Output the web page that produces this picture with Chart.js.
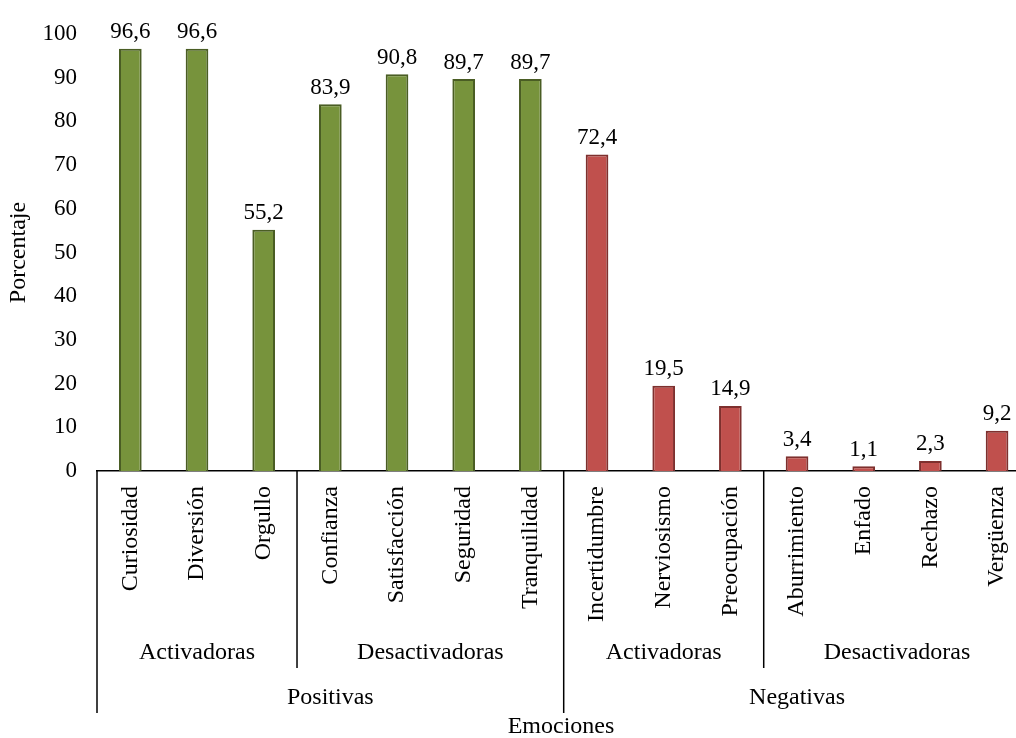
<!DOCTYPE html>
<html>
<head>
<meta charset="utf-8">
<script src="https://cdn.jsdelivr.net/npm/chart.js@4"></script>
<style>
  html, body { margin: 0; padding: 0; background: #fff; overflow: hidden; }
  #wrap { width: 1016px; height: 738px; overflow: hidden; }
</style>
</head>
<body>
<div id="wrap"><canvas id="chart" width="1041" height="738"></canvas></div>
<script>
// Chart data
const emotions = ['Curiosidad', 'Diversión', 'Orgullo', 'Confianza', 'Satisfacción', 'Seguridad', 'Tranquilidad',
    'Incertidumbre', 'Nerviosismo', 'Preocupación', 'Aburrimiento', 'Enfado', 'Rechazo', 'Vergüenza'];
const percentages = [96.6, 96.6, 55.2, 83.9, 90.8, 89.7, 89.7, 72.4, 19.5, 14.9, 3.4, 1.1, 2.3, 9.2];

const subGroupLabels = ['Activadoras', 'Desactivadoras', 'Activadoras', 'Desactivadoras'];
const subGroupSizes = [3, 4, 3, 4];
const groupLabels = ['Positivas', 'Negativas'];
const groupSizes = [7, 7];

const yTicks = [0, 10, 20, 30, 40, 50, 60, 70, 80, 90, 100];

// styles
const FONT = "'Liberation Serif', 'Times New Roman', serif";
const fills = ['#77933C', '#C0504D'];
const borders = ['#4A5D24', '#7E302E'];

// colour of each bar from its top-level group
const barFill = [];
const barBorder = [];
groupSizes.forEach((n, g) => {
    for (let i = 0; i < n; i++) {
        barFill.push(fills[g]);
        barBorder.push(borders[g]);
    }
});

const valueLabels = {
    id: 'valueLabels',
    afterDatasetsDraw(chart) {
        const ctx = chart.ctx;
        const meta = chart.getDatasetMeta(0);
        ctx.save();
        ctx.font = `23px ${FONT}`;
        ctx.fillStyle = '#000';
        ctx.textAlign = 'center';
        ctx.textBaseline = 'bottom';
        meta.data.forEach((bar, i) => {
            const txt = percentages[i].toFixed(1).replace('.', ',');
            ctx.fillText(txt, bar.x, bar.y - 5);
        });
        ctx.restore();
    }
};

function groupStarts() {
    const s = [];
    let acc = 0;
    groupSizes.forEach(n => { s.push(acc); acc += n; });
    return s;
}

// multi level category axis: separators, group labels, axis title
const groupAxis = {
    id: 'groupAxis',
    afterDraw(chart) {
        const ctx = chart.ctx;
        const x = chart.scales.x;
        const base = chart.chartArea.bottom;
        const n = emotions.length;

        const edge = (i) => {
            if (i <= 0) return x.left;
            if (i >= n) return x.right;
            return (x.getPixelForValue(i - 1) + x.getPixelForValue(i)) / 2;
        };

        ctx.save();
        ctx.strokeStyle = '#000';
        ctx.lineWidth = 1.5;
        ctx.fillStyle = '#000';
        ctx.font = `24px ${FONT}`;
        ctx.textAlign = 'center';
        ctx.textBaseline = 'middle';

        // top level groups
        let start = 0;
        groupSizes.forEach((size, g) => {
            const a = edge(start), b = edge(start + size);
            ctx.beginPath();
            ctx.moveTo(a, base);
            ctx.lineTo(a, base + 242);
            ctx.stroke();
            ctx.fillText(groupLabels[g], (a + b) / 2, base + 227);
            start += size;
        });

        // sub groups
        const tops = groupStarts();
        start = 0;
        subGroupSizes.forEach((size, g) => {
            const a = edge(start), b = edge(start + size);
            if (!tops.includes(start)) {
                ctx.beginPath();
                ctx.moveTo(a, base);
                ctx.lineTo(a, base + 197);
                ctx.stroke();
            }
            ctx.fillText(subGroupLabels[g], (a + b) / 2, base + 182);
            start += size;
        });

        ctx.fillText('Emociones', 561, 727);
        ctx.restore();
    }
};

new Chart(document.getElementById('chart'), {
    type: 'bar',
    data: {
        labels: emotions,
        datasets: [{
            data: percentages,
            backgroundColor: barFill,
            borderColor: barBorder,
            borderWidth: 2,
            barPercentage: 0.34,
            categoryPercentage: 1
        }]
    },
    options: {
        responsive: false,
        animation: false,
        layout: {
            padding: { top: 34, left: 0, right: 4, bottom: 0 }
        },
        plugins: {
            legend: { display: false },
            tooltip: { enabled: false }
        },
        scales: {
            x: {
                grid: { display: false, drawTicks: false },
                border: { display: true, color: '#000', width: 1.5 },
                ticks: {
                    color: '#000',
                    font: { family: FONT, size: 24 },
                    minRotation: 90,
                    maxRotation: 90,
                    autoSkip: false,
                    padding: 15
                },
                afterFit(scale) { scale.height = 267; }
            },
            y: {
                min: 0,
                max: 100,
                grid: { display: false, drawTicks: false },
                border: { display: false },
                afterBuildTicks(scale) { scale.ticks = yTicks.map(v => ({ value: v })); },
                ticks: {
                    color: '#000',
                    font: { family: FONT, size: 23 },
                    padding: 20
                },
                title: {
                    display: true,
                    text: 'Porcentaje',
                    color: '#000',
                    font: { family: FONT, size: 24 },
                    padding: { top: 4, bottom: 0 }
                },
                afterFit(scale) { scale.width = 97; }
            }
        }
    },
    plugins: [valueLabels, groupAxis]
});
</script>
</body>
</html>
